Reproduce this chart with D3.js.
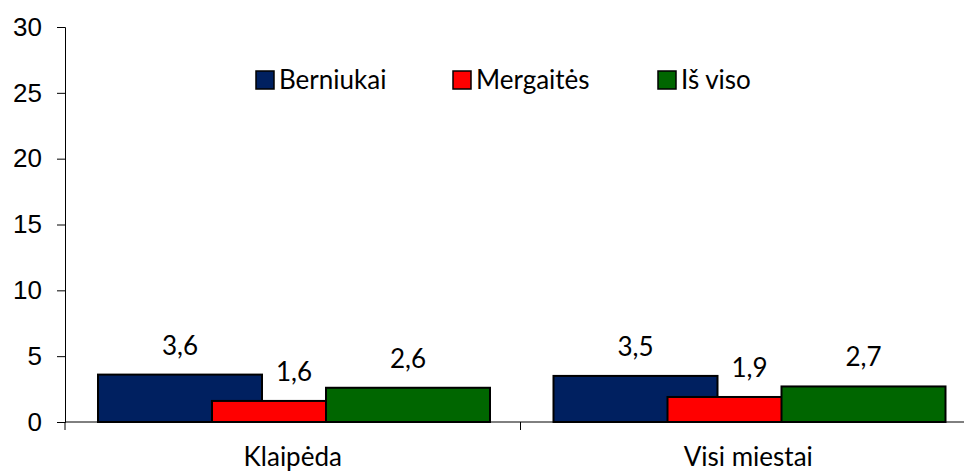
<!DOCTYPE html>
<html>
<head>
<meta charset="utf-8">
<script src="https://cdn.jsdelivr.net/npm/d3@7.9.0/dist/d3.min.js"></script>
<style>
    body { margin: 0; background: #fff; }
    svg { display: block; font-family: Lato, "Open Sans", sans-serif; }
</style>
</head>
<body>
<svg width="964" height="471"></svg>
<script>
const categories = ["Klaipėda", "Visi miestai"];
const seriesNames = ["Berniukai", "Mergaitės", "Iš viso"];
const seriesColors = ["#002060", "#ff0000", "#006600"];
const berniukai = [3.6, 3.5];
const mergaites = [1.6, 1.9];
const isViso = [2.6, 2.7];
const yTicks = [0, 5, 10, 15, 20, 25, 30];

const values = [berniukai, mergaites, isViso];
const fs = 26;

const svg = d3.select("svg");

const y = d3.scaleLinear().domain([0, 30]).range([422, 27]);
const x0 = d3.scaleBand().domain(categories).range([65, 976]);
// bar centres inside one category band (bars overlap each other)
const x1 = d3.scalePoint().domain(seriesNames).range([115, 343]);
const barW = 164;

// y axis
const yAxis = svg.append("g")
    .attr("transform", "translate(65,0)")
    .call(d3.axisLeft(y).tickValues(yTicks).tickSize(8).tickPadding(15).tickFormat(d3.format("d")));
yAxis.select(".domain").attr("stroke", "#000").attr("stroke-width", 1);
yAxis.selectAll(".tick line").attr("stroke", "#000");
yAxis.selectAll("text").attr("font-size", fs).attr("fill", "#000").attr("font-family", null);

// x axis line and category ticks
svg.append("line")
    .attr("x1", 65).attr("x2", 976)
    .attr("y1", y(0)).attr("y2", y(0))
    .attr("stroke", "#000");
svg.selectAll(".ctick")
    .data([65, x0("Visi miestai")])
    .join("line")
    .attr("x1", d => d).attr("x2", d => d)
    .attr("y1", y(0)).attr("y2", y(0) + 8)
    .attr("stroke", "#000");

svg.selectAll(".clabel")
    .data(categories)
    .join("text")
    .attr("x", d => x0(d) + x0.bandwidth() / 2)
    .attr("y", 466)
    .attr("text-anchor", "middle")
    .attr("font-size", fs)
    .text(d => d);

// bars, drawn in series order so later ones sit on top
seriesNames.forEach((s, i) => {
    const g = svg.append("g");
    g.selectAll("rect")
        .data(values[i])
        .join("rect")
        .attr("x", (d, j) => x0(categories[j]) + x1(s) - barW / 2)
        .attr("y", d => y(d))
        .attr("width", barW)
        .attr("height", d => y(0) - y(d))
        .attr("fill", seriesColors[i])
        .attr("stroke", "#000")
        .attr("stroke-width", 2);
});

seriesNames.forEach((s, i) => {
    svg.append("g").selectAll("text")
        .data(values[i])
        .join("text")
        .attr("x", (d, j) => x0(categories[j]) + x1(s))
        .attr("y", d => y(d) - 20)
        .attr("text-anchor", "middle")
        .attr("font-size", fs)
        .text(d => d3.format(".1f")(d).replace(".", ","));
});

// legend
const legendX = [256, 453, 658];
const legend = svg.append("g");
seriesNames.forEach((s, i) => {
    legend.append("rect")
        .attr("x", legendX[i]).attr("y", 71)
        .attr("width", 18).attr("height", 18)
        .attr("fill", seriesColors[i])
        .attr("stroke", "#000")
        .attr("stroke-width", 1.5);
    legend.append("text")
        .attr("x", legendX[i] + 23).attr("y", 89)
        .attr("font-size", fs)
        .text(s);
});
</script>
</body>
</html>
